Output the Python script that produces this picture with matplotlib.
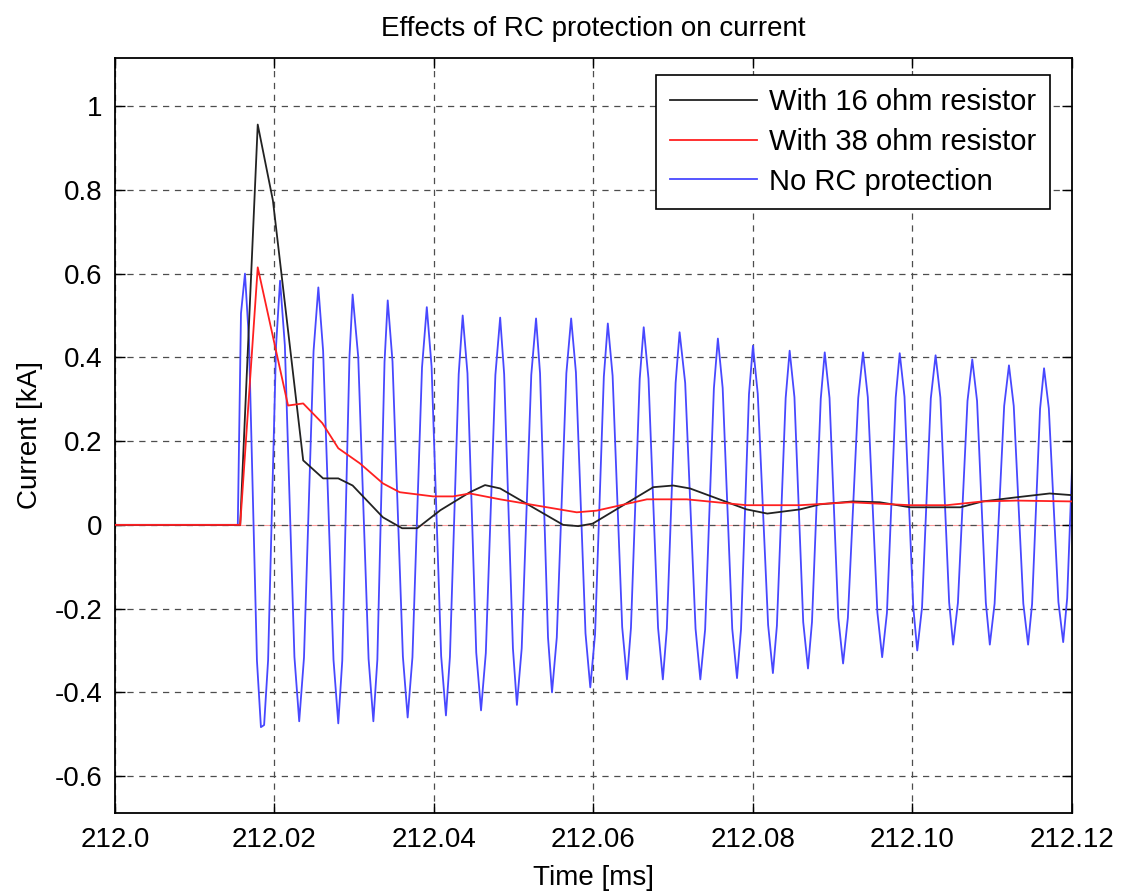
import matplotlib
matplotlib.use("Agg")
import matplotlib.pyplot as plt

plt.rcParams['font.family'] = ['Liberation Sans', 'DejaVu Sans']

# Time axis values [ms] and currents [kA]
t_16ohm = [212.0, 212.0157, 212.0179, 212.0198, 212.0236, 212.0261, 212.0280,
           212.0298, 212.0336, 212.0360, 212.0379, 212.0408, 212.0445, 212.0464,
           212.0483, 212.0562, 212.0581, 212.0599, 212.0675, 212.0700, 212.0721,
           212.0792, 212.0818, 212.0859, 212.0884, 212.0925, 212.0959, 212.0997,
           212.1060, 212.1088, 212.1131, 212.1172, 212.1200]
i_16ohm = [0.0, 0.0, 0.956, 0.775, 0.154, 0.111, 0.111,
           0.094, 0.018, -0.008, -0.008, 0.035, 0.078, 0.095,
           0.087, 0.0, -0.003, 0.003, 0.090, 0.094, 0.087,
           0.037, 0.027, 0.037, 0.049, 0.056, 0.054, 0.042,
           0.042, 0.056, 0.066, 0.075, 0.071]

t_38ohm = [212.0, 212.0157, 212.0179, 212.0217, 212.0236, 212.0260, 212.0280,
           212.0307, 212.0336, 212.0357, 212.0399, 212.0424, 212.0445, 212.0464,
           212.0483, 212.0579, 212.0604, 212.0667, 212.0717, 212.0792, 212.0859,
           212.0922, 212.0997, 212.1043, 212.1088, 212.1131, 212.1200]
i_38ohm = [0.0, 0.0, 0.615, 0.285, 0.290, 0.243, 0.183,
           0.147, 0.099, 0.078, 0.068, 0.068, 0.075, 0.068,
           0.061, 0.030, 0.034, 0.061, 0.061, 0.047, 0.047,
           0.054, 0.047, 0.047, 0.056, 0.058, 0.056]

# Unprotected case: sampled ringing waveform
t_norc = [212.0, 212.0154, 212.0158, 212.0163, 212.0168, 212.0178, 212.0183,
          212.0187, 212.0192, 212.0202, 212.0207, 212.0213, 212.0225, 212.0231,
          212.0237, 212.0249, 212.0255, 212.0261, 212.0274, 212.0280, 212.0285,
          212.0294, 212.0298, 212.0305, 212.0318, 212.0324, 212.0329, 212.0338,
          212.0342, 212.0348, 212.0361, 212.0367, 212.0373, 212.0385, 212.0391,
          212.0397, 212.0409, 212.0415, 212.0420, 212.0431, 212.0436, 212.0442,
          212.0453, 212.0459, 212.0465, 212.0477, 212.0483, 212.0488, 212.0499,
          212.0504, 212.0510, 212.0522, 212.0528, 212.0533, 212.0543, 212.0548,
          212.0554, 212.0566, 212.0572, 212.0578, 212.0590, 212.0596, 212.0602,
          212.0613, 212.0618, 212.0624, 212.0636, 212.0642, 212.0647, 212.0658,
          212.0663, 212.0669, 212.0681, 212.0687, 212.0692, 212.0703, 212.0708,
          212.0715, 212.0728, 212.0734, 212.0740, 212.0751, 212.0756, 212.0762,
          212.0774, 212.0780, 212.0785, 212.0795, 212.0800, 212.0806, 212.0819,
          212.0825, 212.0830, 212.0841, 212.0846, 212.0852, 212.0863, 212.0869,
          212.0874, 212.0885, 212.0890, 212.0896, 212.0907, 212.0913, 212.0919,
          212.0932, 212.0938, 212.0944, 212.0956, 212.0962, 212.0968, 212.0979,
          212.0984, 212.0990, 212.1001, 212.1006, 212.1012, 212.1023, 212.1029,
          212.1035, 212.1046, 212.1051, 212.1057, 212.1069, 212.1075, 212.1081,
          212.1092, 212.1097, 212.1103, 212.1115, 212.1121, 212.1127, 212.1139,
          212.1145, 212.1150, 212.1160, 212.1165, 212.1171, 212.1183, 212.1189,
          212.1194, 212.1200]
i_norc = [0.0, 0.0, 0.505, 0.600, 0.441, -0.324, -0.483,
          -0.478, -0.323, 0.428, 0.583, 0.429, -0.315, -0.469,
          -0.317, 0.415, 0.567, 0.415, -0.322, -0.474, -0.324,
          0.400, 0.550, 0.401, -0.320, -0.469, -0.322, 0.389,
          0.536, 0.390, -0.314, -0.460, -0.316, 0.376, 0.520,
          0.378, -0.313, -0.455, -0.315, 0.360, 0.500, 0.362,
          -0.305, -0.443, -0.306, 0.358, 0.495, 0.360, -0.295,
          -0.430, -0.295, 0.358, 0.493, 0.362, -0.269, -0.400,
          -0.269, 0.362, 0.493, 0.364, -0.259, -0.388, -0.261,
          0.354, 0.481, 0.356, -0.244, -0.369, -0.246, 0.349,
          0.472, 0.349, -0.246, -0.369, -0.248, 0.339, 0.460,
          0.339, -0.248, -0.369, -0.250, 0.326, 0.445, 0.327,
          -0.248, -0.366, -0.250, 0.312, 0.428, 0.313, -0.239,
          -0.354, -0.241, 0.303, 0.416, 0.305, -0.232, -0.343,
          -0.232, 0.301, 0.412, 0.303, -0.222, -0.331, -0.222,
          0.303, 0.412, 0.305, -0.209, -0.316, -0.210, 0.304,
          0.410, 0.306, -0.196, -0.300, -0.197, 0.302, 0.405,
          0.304, -0.185, -0.286, -0.186, 0.296, 0.395, 0.296,
          -0.186, -0.286, -0.188, 0.284, 0.381, 0.284, -0.188,
          -0.286, -0.189, 0.277, 0.374, 0.278, -0.184, -0.280,
          -0.175, 0.130]

labels = ['With 16 ohm resistor', 'With 38 ohm resistor', 'No RC protection']

x_ticks = [212.0, 212.02, 212.04, 212.06, 212.08, 212.10, 212.12]
x_tick_labels = ['212.0', '212.02', '212.04', '212.06', '212.08', '212.10', '212.12']
y_ticks = [-0.6, -0.4, -0.2, 0, 0.2, 0.4, 0.6, 0.8, 1.0]
y_tick_labels = ['-0.6', '-0.4', '-0.2', '0', '0.2', '0.4', '0.6', '0.8', '1']

fig = plt.figure(figsize=(11.24, 8.93), dpi=100)
ax = fig.add_axes([0.1023, 0.0896, 0.8514, 0.8455])

ax.axhline(0, color='#ff6060', lw=0.8, alpha=0.6, zorder=1)
ax.plot(t_16ohm, i_16ohm, color='#222222', lw=1.3, label=labels[0], zorder=3)
ax.plot(t_38ohm, i_38ohm, color='#ff2020', lw=1.3, label=labels[1], zorder=3)
ax.plot(t_norc, i_norc, color='#4848ff', lw=1.3, label=labels[2], zorder=2)

ax.set_xlim(212.0, 212.12)
ax.set_ylim(-0.688, 1.115)
ax.set_xticks(x_ticks)
ax.set_xticklabels(x_tick_labels)
ax.set_yticks(y_ticks)
ax.set_yticklabels(y_tick_labels)

ax.grid(True, color='0.3', lw=0.9, linestyle=(0, (5, 4.5)))
ax.tick_params(direction='in', length=7, width=1, top=True, right=True,
               labelsize=20)
ax.tick_params(axis='x', pad=10)
ax.tick_params(axis='y', pad=9)
for s in ax.spines.values():
    s.set_linewidth(1.3)

ax.set_title('Effects of RC protection on current', fontsize=20, pad=16)
ax.set_xlabel('Time [ms]', fontsize=20, labelpad=9)
ax.set_ylabel('Current [kA]', fontsize=20, labelpad=8)

leg = ax.legend(loc='upper right', bbox_to_anchor=(0.977, 0.9775),
                fontsize=21, frameon=True, fancybox=False,
                edgecolor='black', framealpha=1, handlelength=3.0,
                handletextpad=0.41, labelspacing=0.4, borderpad=0.46,
                borderaxespad=0.0)
leg.get_frame().set_linewidth(1.2)

fig.savefig('out.png', dpi=100)
